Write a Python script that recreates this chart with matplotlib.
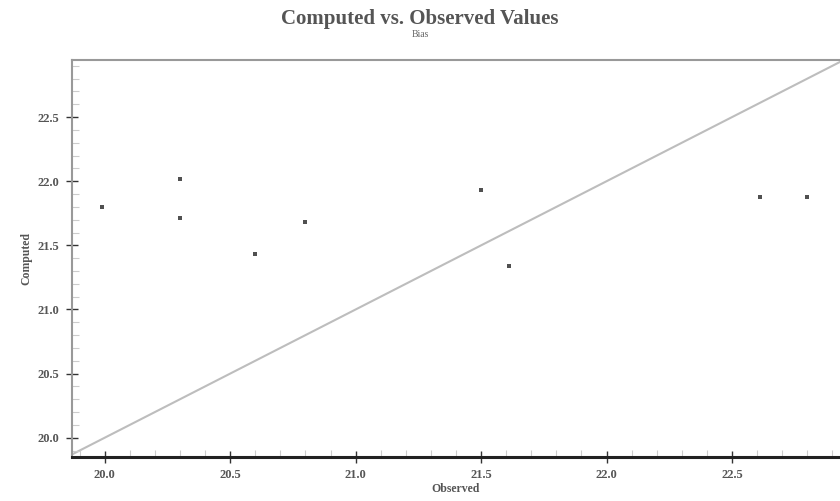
import matplotlib
matplotlib.use("Agg")
import matplotlib.pyplot as plt
from matplotlib.ticker import MultipleLocator

observed = [19.99, 20.30, 20.30, 20.60, 20.80, 21.50, 21.61, 22.61, 22.80]
computed = [21.80, 22.02, 21.71, 21.43, 21.68, 21.93, 21.34, 21.88, 21.88]
x_ticks = [20.0, 20.5, 21.0, 21.5, 22.0, 22.5]
y_ticks = [20.0, 20.5, 21.0, 21.5, 22.0, 22.5]
x_lim = (19.87, 22.93)
y_lim = (19.85, 22.945)

fig = plt.figure(figsize=(8.4, 5.01), dpi=100)
ax = fig.add_axes([72 / 840, 44 / 501, 1 - 72 / 840, 397 / 501])

ax.set_xlim(*x_lim)
ax.set_ylim(*y_lim)

lo = min(x_lim[0], y_lim[0])
hi = max(x_lim[1], y_lim[1])
ax.plot([lo, hi], [lo, hi], color="#bdbdbd", lw=1.5, zorder=1)

ax.scatter(observed, computed, marker="s", s=10, color="#505050", zorder=3, linewidths=0)

ax.set_xticks(x_ticks)
ax.set_yticks(y_ticks)
ax.set_xticklabels([f"{v:.1f}" for v in x_ticks], fontsize=9, color="#555555",
                   family="Liberation Serif", fontweight="bold")
ax.set_yticklabels([f"{v:.1f}" for v in y_ticks], fontsize=9, color="#555555",
                   family="Liberation Serif", fontweight="bold")
ax.xaxis.set_minor_locator(MultipleLocator(0.1))
ax.yaxis.set_minor_locator(MultipleLocator(0.1))
ax.tick_params(which="major", direction="inout", length=8, width=1.0, color="#333333", pad=5)
ax.tick_params(which="minor", direction="in", length=5, width=0.8, color="#cccccc")

for side in ["top", "left"]:
    ax.spines[side].set_color("#999999")
    ax.spines[side].set_linewidth(1.5)
ax.spines["bottom"].set_color("#222222")
ax.spines["bottom"].set_linewidth(2.2)
ax.spines["right"].set_visible(False)

ax.set_xlabel("Observed", fontsize=8.5, color="#555555", family="Liberation Serif",
              fontweight="bold", labelpad=1)
ax.set_ylabel("Computed", fontsize=8.5, color="#555555", family="Liberation Serif",
              fontweight="bold", labelpad=4)

fig.text(0.5, 0.962, "Computed vs. Observed Values", ha="center", va="center",
         fontsize=15, color="#555555", family="Liberation Serif", fontweight="bold")
fig.text(0.5, 0.932, "Bias", ha="center", va="center",
         fontsize=7, color="#666666", family="Liberation Serif")

fig.savefig("out.png", dpi=100)
